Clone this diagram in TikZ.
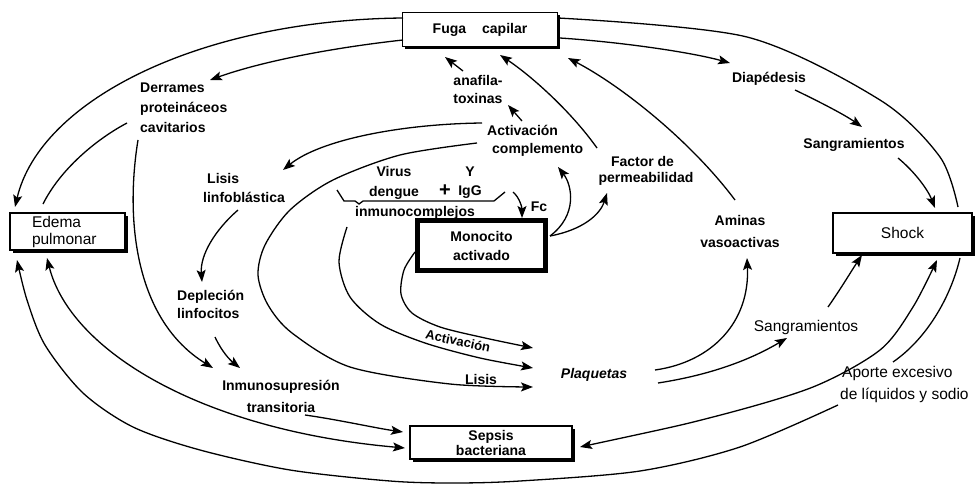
\documentclass[tikz,border=0pt]{standalone}
\usepackage{fontspec}
\setmainfont{Liberation Sans}
\usetikzlibrary{arrows.meta,shadows}

\begin{document}
\begin{tikzpicture}[x=1pt,y=-1pt,
  every node/.style={inner sep=0pt, align=center},
  lab/.style={font=\fontsize{14}{#1}\selectfont\bfseries},
  lab/.default=18,
  labr/.style={font=\fontsize{15.5}{#1}\selectfont},
  labr/.default=20,
  box/.style={draw, line width=1.4pt, fill=white,
    drop shadow={shadow xshift=2.5pt, shadow yshift=-2.5pt, opacity=1, fill=black}},
  con/.style={line width=1.3pt},
  head/.style={Stealth[length=12pt,width=9pt,inset=2.5pt]},
  arr/.style={con, -{Stealth[length=12pt,width=9pt,inset=2.5pt]}},
  darr/.style={con, {Stealth[length=12pt,width=9pt,inset=2.5pt]}-{Stealth[length=12pt,width=9pt,inset=2.5pt]}},
]
\useasboundingbox (0,0) rectangle (977,484);

% ---------- boxes ----------
\node[box, minimum width=155pt, minimum height=34pt, lab] (fuga) at (480,29.5) {Fuga\hspace{16pt}capilar};
\node[box, minimum width=115pt, minimum height=37pt, labr=17, text width=71pt, align=left] (edema) at (67.5,231.5) {Edema\\pulmonar};
\node[box, minimum width=139pt, minimum height=40pt, labr] (shock) at (902.5,233) {Shock};
\node[draw, line width=4.5pt, fill=white, minimum width=128pt, minimum height=50pt, lab=19] (mono) at (481.5,245.5) {Monocito\\activado};
\node[box, minimum width=162pt, minimum height=33pt, lab=15] (sepsis) at (491,442.5) {Sepsis\\bacteriana};

% ---------- labels ----------
\node[lab] (anafila) at (478,89) {anafila-\\toxinas};
\node[lab=20, anchor=west, align=left] (derrames) at (140,108) {Derrames\\proteináceos\\cavitarios};
\node[lab=19, anchor=west, align=left] (lisisl) at (203,187.5) {\hspace*{4pt}Lisis\\linfoblástica};
\node[lab=20] (virus) at (394,183) {Virus\\dengue};
\node[font=\fontsize{20}{20}\selectfont\bfseries] (plus) at (445,191) {+};
\node[lab=19] (igg) at (470,183) {Y\\IgG};
\node[lab] (inmuno) at (415,213) {inmunocomplejos};
\node[lab=18, anchor=west, align=left] (actcomp) at (487,141) {Activación\\\hspace*{5pt}complemento};
\node[lab] (fc) at (539,207) {Fc};
\node[lab=16] (factor) at (646,171) {\hspace*{-7pt}Factor de\\permeabilidad};
\node[lab] (diap) at (769,79) {Diapédesis};
\node[lab] (sangrA) at (854,145) {Sangramientos};
\node[lab=22] (aminas) at (740,231) {Aminas\\vasoactivas};
\node[labr] (sangrB) at (806,327) {Sangramientos};
\node[lab] (plaq) at (594,375) {\itshape Plaquetas};
\node[labr=22, anchor=west, align=left] (aporte) at (840,384) {\hspace*{2pt}Aporte excesivo\\de líquidos y sodio};
\node[lab=18, anchor=west, align=left] (deplecion) at (177,304) {Depleción\\linfocitos};
\node[lab=22] (inmunosup) at (281,396) {Inmunosupresión\\transitoria};
\node[font=\fontsize{13}{16}\selectfont\bfseries, rotate=-12] (actlow) at (458,341) {Activación};
\node[lab] (lisislow) at (481,379) {Lisis};

% ---------- connector end points ----------
\coordinate (fugaWa) at (403,18);
\coordinate (fugaWb) at (403,40);
\coordinate (fugaEa) at (558,18);
\coordinate (fugaEb) at (560,38);
\coordinate (fugaSa) at (445,57);
\coordinate (fugaSb) at (500,55);
\coordinate (fugaSc) at (568,58);
\coordinate (edemaNa) at (15,207);
\coordinate (edemaNb) at (43,204);
\coordinate (edemaSa) at (17,260);
\coordinate (edemaSb) at (47,258);
\coordinate (derramesN) at (210,80);
\coordinate (derramesW) at (127,123);
\coordinate (derramesS) at (138,140);
\coordinate (anafilaS) at (508,105);
\coordinate (anafilaN) at (463,71);
\coordinate (actcompN) at (522,121);
\coordinate (actcompWa) at (482,123);
\coordinate (actcompWb) at (477,143);
\coordinate (actcompS) at (558,167);
\coordinate (factorN) at (597,148);
\coordinate (factorS) at (607,193);
\coordinate (aminasN) at (735,200);
\coordinate (aminasS) at (747,258);
\coordinate (diapW) at (730,63);
\coordinate (diapS) at (795,90);
\coordinate (sangrAN) at (862,127);
\coordinate (sangrAS) at (898,158);
\coordinate (shockNa) at (935,208);
\coordinate (shockNb) at (958,207);
\coordinate (shockSa) at (862,255);
\coordinate (shockSb) at (937,260);
\coordinate (shockSc) at (960,258);
\coordinate (lisislN) at (283,170);
\coordinate (lisislS) at (238,210);
\coordinate (deplecionN) at (202,282);
\coordinate (deplecionS) at (215,337);
\coordinate (inmunosupN) at (213,368);
\coordinate (inmunosupNb) at (240,368);
\coordinate (inmunosupE) at (305,415);
\coordinate (sepsisWa) at (403,432);
\coordinate (sepsisWb) at (405,448);
\coordinate (sepsisE) at (580,447);
\coordinate (monoE) at (550,236);
\coordinate (monoW) at (415,252);
\coordinate (monoN) at (522,218);
\coordinate (braceR) at (513,192);
\coordinate (inmunoS) at (347,227);
\coordinate (plaqWa) at (533,348);
\coordinate (plaqWb) at (533,368);
\coordinate (plaqWc) at (533,387);
\coordinate (plaqEa) at (655,370);
\coordinate (plaqEb) at (658,383);
\coordinate (sangrBW) at (787,338);
\coordinate (sangrBN) at (828,307);
\coordinate (aporteN) at (893,362);
\coordinate (aporteW) at (838,405);

% ---------- brace under the immune complex ----------
\draw[con] (337,190) -- (344,201) -- (355,201) -- (359,204) -- (363,201) -- (494,201) -- (505,192);

% ---------- connectors ----------
% outer ring
\draw[arr] (fugaWa) .. controls (200,20) and (40,100) .. (edemaNa);
\draw[con] plot[smooth] coordinates {(fugaEa) (747,37) (880,100) (940,157) (shockNb)};
\draw[con] (shockSc) .. controls (950,300) and (925,340) .. (aporteN);
\draw[arr] plot[smooth] coordinates {(aporteW) (740,447) (640,471) (520,481) (453,483) (390,481) (290,470) (200,450) (133,427) (83,393) (45,345) (27,300) (edemaSa)};

% left side
\draw[arr] (fugaWb) .. controls (330,48) and (260,62) .. (derramesN);
\draw[con] (derramesW) .. controls (95,140) and (60,170) .. (edemaNb);
\draw[arr] (derramesS) .. controls (125,220) and (135,320) .. (inmunosupN);
\draw[arr] (actcompWa) .. controls (400,124) and (320,140) .. (lisislN);
\draw[arr] (lisislS) .. controls (215,230) and (200,255) .. (deplecionN);
\draw[arr] (deplecionS) .. controls (222,352) and (230,360) .. (inmunosupNb);
\draw[arr] (inmunosupE) .. controls (340,420) and (375,428) .. (sepsisWa);
\draw[darr] (edemaSb) .. controls (70,350) and (200,430) .. (sepsisWb);

% top
\draw[arr] (anafilaN) -- (fugaSa);
\draw[arr] (actcompN) -- (anafilaS);
\draw[arr] (factorN) .. controls (570,110) and (530,75) .. (fugaSb);
\draw[arr] (aminasN) .. controls (690,140) and (620,85) .. (fugaSc);
\draw[arr] (fugaEb) .. controls (620,42) and (690,52) .. (diapW);
\draw[arr] (diapS) .. controls (820,102) and (845,115) .. (sangrAN);
\draw[arr] (sangrAS) .. controls (915,172) and (928,190) .. (shockNa);

% monocyte
\draw[arr] (monoE) .. controls (578,215) and (572,185) .. (actcompS);
\draw[arr] (monoE) .. controls (582,230) and (600,215) .. (factorS);
\draw[arr] (braceR) .. controls (520,198) and (522,208) .. (monoN);

% towards the platelets
\draw[arr] plot[smooth] coordinates {(monoW) (404,270) (401,294) (412,313) (440,327) (485,338) (plaqWa)};
\draw[arr] plot[smooth] coordinates {(inmunoS) (339,262) (350,297) (380,324) (425,343) (480,358) (plaqWb)};
\draw[arr] plot[smooth] coordinates {(actcompWb) (400,155) (333,180) (290,210) (265,245) (258,275) (268,305) (292,333) (350,367) (450,384) (plaqWc)};

% right side
\draw[arr] (plaqEa) .. controls (712,362) and (750,322) .. (aminasS);
\draw[arr] (plaqEb) .. controls (710,375) and (750,360) .. (sangrBW);
\draw[arr] (sangrBN) .. controls (840,290) and (852,270) .. (shockSa);
\draw[darr] plot[smooth] coordinates {(sepsisE) (713,417) (813,387) (880,350) (913,307) (shockSb)};
\end{tikzpicture}
\end{document}
